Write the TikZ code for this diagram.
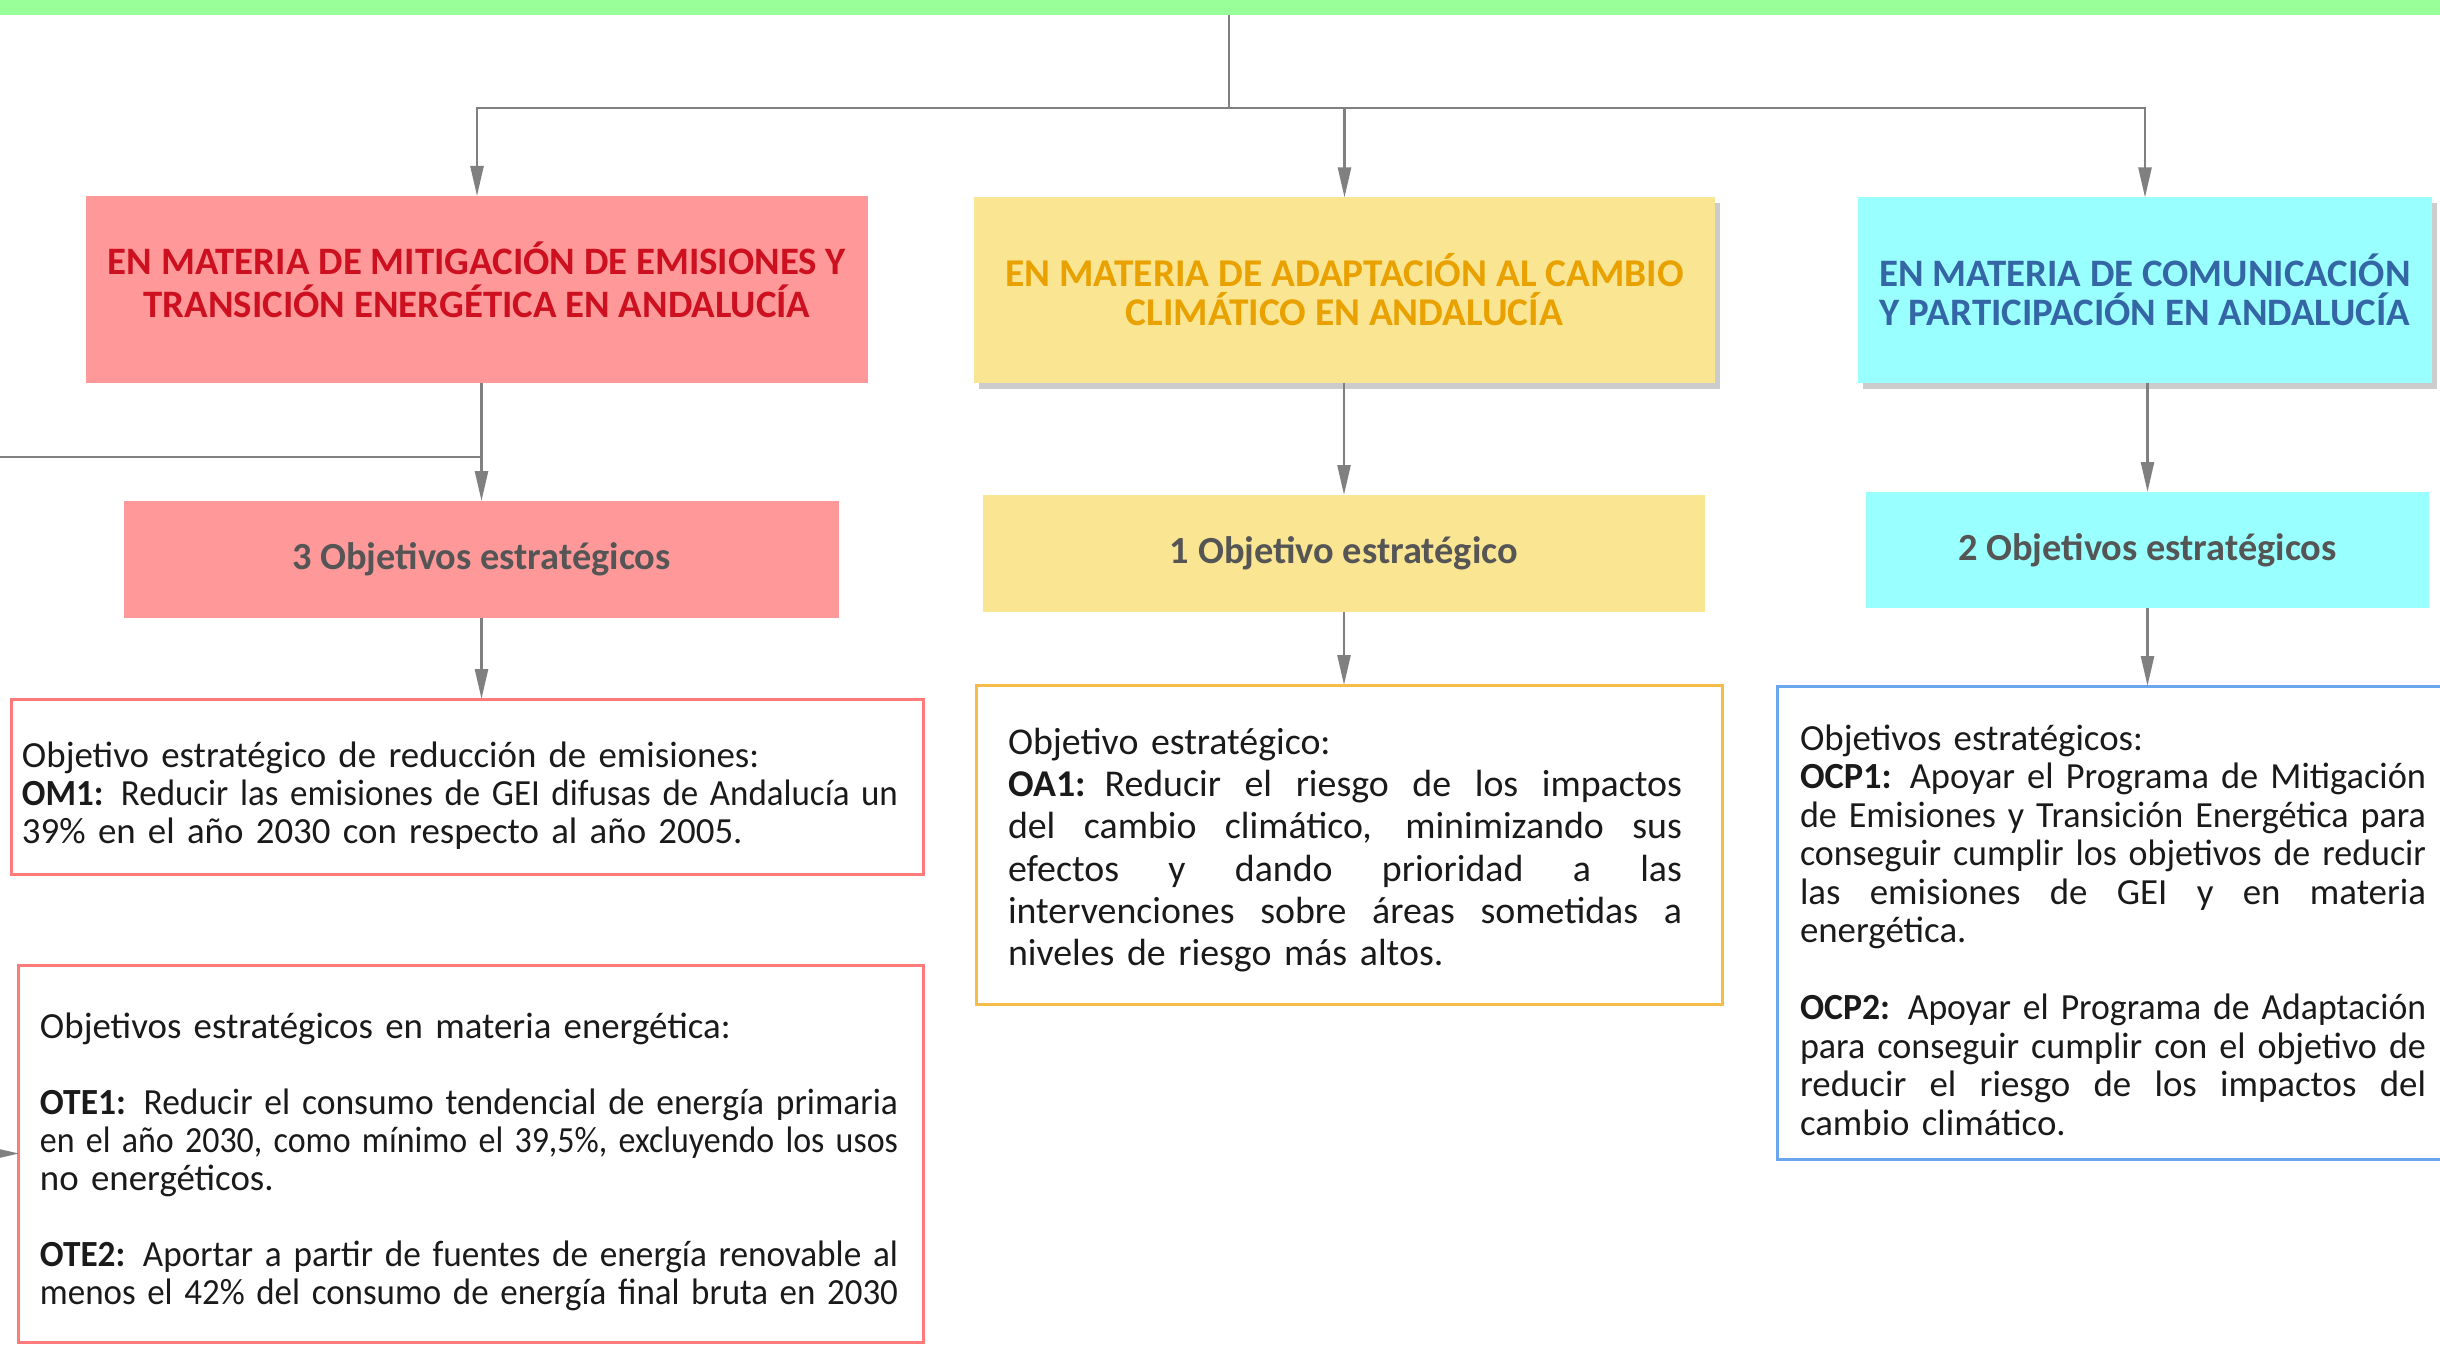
\documentclass[tikz,border=0pt]{standalone}
\usepackage{fontspec}
\setmainfont{Carlito}
\usetikzlibrary{arrows.meta,shadows}
\definecolor{greenbar}{HTML}{99FF99}
\definecolor{redfill}{HTML}{FF9999}
\definecolor{redtxt}{HTML}{CC1020}
\definecolor{yelfill}{HTML}{FAE592}
\definecolor{yeltxt}{HTML}{E9A100}
\definecolor{cyanfill}{HTML}{99FFFF}
\definecolor{bluetxt}{HTML}{3465A4}
\definecolor{subtxt}{HTML}{555555}
\definecolor{bodytxt}{HTML}{1A1A1A}
\definecolor{lineg}{HTML}{808080}
\definecolor{redbord}{HTML}{FF7A7A}
\definecolor{yelbord}{HTML}{F5BC4A}
\definecolor{bluebord}{HTML}{69A6EE}
\definecolor{shadowg}{HTML}{CCCCCC}
\newlength\curw
\newlength\jstwd
\newcommand\jstline[1]{\leavevmode\settowidth\jstwd{#1}\ifdim\jstwd>\curw\resizebox{\curw}{\height}{#1}\else\hbox to\curw{\spaceskip=0.23em plus 3em minus 0.05em\relax #1}\fi}
\newcommand\natline[1]{\leavevmode\settowidth\jstwd{#1}\ifdim\jstwd>\curw\resizebox{\curw}{\height}{#1}\else\hbox{#1}\fi}
\begin{document}
\begin{tikzpicture}[x=1bp,y=-1bp,
  conn/.style={draw=lineg, line width=2.5bp},
  arr/.style={conn, -{Triangle[length=30bp,width=13bp]}},
  hdr/.style={inner sep=0, outer sep=0, align=center, font=\fontsize{39}{43}\selectfont\bfseries},
  subbox/.style={inner sep=0, outer sep=0, align=center, text=subtxt, font=\fontsize{38.5}{40}\selectfont\bfseries},
  obox/.style={draw, line width=3bp, fill=white, inner sep=0, outer sep=0},
  bodytext/.style={inner sep=0, outer sep=0, align=left, text=bodytxt},
  shad/.style={drop shadow={shadow xshift=5bp, shadow yshift=-6bp, fill=shadowg, opacity=1}},
]
\useasboundingbox (0,0) rectangle (2440,1345);

% top bar
\node[fill=greenbar, minimum width=2460bp, minimum height=15bp, inner sep=0, outer sep=0] (top) at (1220,7.5) {};

% headers
\node[fill=redfill, minimum width=782bp, minimum height=187bp, inner sep=0, outer sep=0] (hA) at (477,289.5) {};
\node[hdr, text=redtxt] (hAt) at (477,280)
  {EN MATERIA DE MITIGACIÓN DE EMISIONES Y\\TRANSICIÓN ENERGÉTICA EN ANDALUCÍA};
\node[hdr, shad, fill=yelfill, text=yeltxt, minimum width=741bp, minimum height=185bp,
  font=\fontsize{39.5}{39}\selectfont\bfseries] (hB) at (1344.5,290)
  {EN MATERIA DE ADAPTACIÓN AL CAMBIO\\CLIMÁTICO EN ANDALUCÍA};
\node[hdr, shad, fill=cyanfill, text=bluetxt, minimum width=574bp, minimum height=185bp,
  font=\fontsize{39}{39}\selectfont\bfseries] (hC) at (2145,290)
  {EN MATERIA DE COMUNICACIÓN\\Y PARTICIPACIÓN EN ANDALUCÍA};

% counts
\node[subbox, fill=redfill, minimum width=715bp, minimum height=117bp] (oA) at (481.5,559.5) {3 Objetivos estratégicos};
\node[subbox, fill=yelfill, minimum width=722bp, minimum height=117bp] (oB) at (1344,553.5) {1 Objetivo estratégico};
\node[subbox, fill=cyanfill, minimum width=563bp, minimum height=116bp] (oC) at (2147.5,550) {2 Objetivos estratégicos};

% detail boxes
\node[obox, draw=redbord, minimum width=911bp, minimum height=175bp] (om) at (467.5,786.5) {};
\node[obox, draw=redbord, minimum width=904bp, minimum height=377bp] (ote) at (471,1153.5) {};
\node[obox, draw=yelbord, minimum width=746bp, minimum height=319bp] (ob3) at (1349,844.5) {};
\node[obox, draw=bluebord, minimum width=673bp, minimum height=473bp] (oc3) at (2113.5,922.5) {};

% texts
\node[bodytext, text width=876bp, font=\fontsize{37}{38}\selectfont] (omt) at (460,796) {%
\setlength\curw{876bp}%
\natline{Objetivo estratégico de reducción de emisiones:}\\
\jstline{\textbf{OM1:} Reducir las emisiones de GEI difusas de Andalucía un}\\
\natline{39\% en el año 2030 con respecto al año 2005.}};

\node[bodytext, text width=858bp, font=\fontsize{37}{38}\selectfont] (otet) at (469,1162) {%
\setlength\curw{858bp}%
\natline{Objetivos estratégicos en materia energética:}\\[38bp]
\jstline{\textbf{OTE1:} Reducir el consumo tendencial de energía primaria}\\
\jstline{en el año 2030, como mínimo el 39,5\%, excluyendo los usos}\\
\natline{no energéticos.}\\[38bp]
\jstline{\textbf{OTE2:} Aportar a partir de fuentes de energía renovable al}\\
\natline{menos el 42\% del consumo de energía final bruta en 2030}};

\node[bodytext, text width=674bp, font=\fontsize{38}{42.4}\selectfont] (ob3t) at (1345,850) {%
\setlength\curw{674bp}%
\natline{Objetivo estratégico:}\\
\jstline{\textbf{OA1:} Reducir el riesgo de los impactos}\\
\jstline{del cambio climático, minimizando sus}\\
\jstline{efectos y dando prioridad a las}\\
\jstline{intervenciones sobre áreas sometidas a}\\
\natline{niveles de riesgo más altos.}};

\node[bodytext, text width=626bp, font=\fontsize{37}{38.6}\selectfont] (oc3t) at (2113,930) {%
\setlength\curw{626bp}%
\natline{Objetivos estratégicos:}\\
\jstline{\textbf{OCP1:} Apoyar el Programa de Mitigación}\\
\jstline{de Emisiones y Transición Energética para}\\
\jstline{conseguir cumplir los objetivos de reducir}\\
\jstline{las emisiones de GEI y en materia}\\
\natline{energética.}\\[38.6bp]
\jstline{\textbf{OCP2:} Apoyar el Programa de Adaptación}\\
\jstline{para conseguir cumplir con el objetivo de}\\
\jstline{reducir el riesgo de los impactos del}\\
\natline{cambio climático.}};

% connectors
\coordinate (tr) at (1229,15);
\coordinate (jn) at (1229,108);
\draw[conn] (tr) -- (jn);
\draw[arr] (jn) -| (hA.north);
\draw[arr] (jn) -| (hB.north);
\draw[arr] (jn) -| (hC.north);

\draw[arr] (hA.south -| oA.north) -- (oA.north);
\coordinate (offl) at (-40,457);
\draw[arr] (hA.south -| oA.north) |- (offl) |- (ote.west);
\draw[arr] (oA.south) -- (oA.south |- om.north);

\draw[arr] (hB.south -| oB.north) -- (oB.north);
\draw[arr] (oB.south) -- (oB.south |- ob3.north);

\draw[arr] (hC.south -| oC.north) -- (oC.north);
\draw[arr] (oC.south) -- (oC.south |- oc3.north);
\end{tikzpicture}
\end{document}
